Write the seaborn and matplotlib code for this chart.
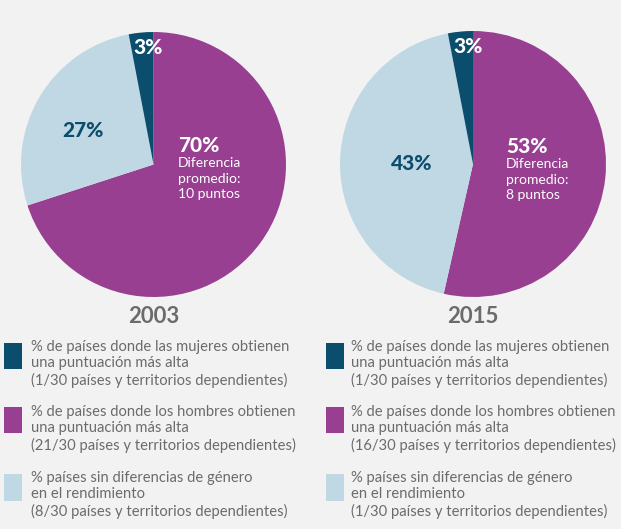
import matplotlib
matplotlib.use("Agg")
import matplotlib.pyplot as plt
import seaborn as sns
from matplotlib.patches import Rectangle

# Share of countries by gender gap outcome (order: men higher, no difference, women higher)
years = ["2003", "2015"]
men_higher = [70, 53]
no_difference = [27, 43]
women_higher = [3, 3]
avg_gap_text = ["Diferencia\npromedio:\n10 puntos", "Diferencia\npromedio:\n8 puntos"]

legend_texts = [
    ["% de países donde las mujeres obtienen\nuna puntuación más alta\n(1/30 países y territorios dependientes)",
     "% de países donde los hombres obtienen\nuna puntuación más alta\n(21/30 países y territorios dependientes)",
     "% países sin diferencias de género\nen el rendimiento\n(8/30 países y territorios dependientes)"],
    ["% de países donde las mujeres obtienen\nuna puntuación más alta\n(1/30 países y territorios dependientes)",
     "% de países donde los hombres obtienen\nuna puntuación más alta\n(16/30 países y territorios dependientes)",
     "% países sin diferencias de género\nen el rendimiento\n(1/30 países y territorios dependientes)"],
]

sns.set_theme(style="white")
plt.rcParams["font.family"] = ["Lato", "DejaVu Sans"]

BG = "#f2f2f2"
NAVY, PURPLE, LIGHT = sns.color_palette(["#0b4d6c", "#983f91", "#bfd8e3"])
GRAY = "#6b6b6b"

W, H = 621, 529
fig = plt.figure(figsize=(W / 100, H / 100), dpi=100)
fig.patch.set_facecolor(BG)

centers = [(153.5, 164.5, 132.5), (473.0, 164.0, 133.0)]
# label positions in pie coordinates
pos_small = [(-0.04, 0.88), (-0.04, 0.885)]
pos_nodiff = [(-0.53, 0.26), (-0.46, 0.0)]
pos_men = [(0.186, 0.14), (0.248, 0.13)]

for i, (cx, cy, r) in enumerate(centers):
    ax = fig.add_axes([(cx - r) / W, 1 - (cy + r) / H, 2 * r / W, 2 * r / H])
    ax.set_facecolor(BG)
    vals = [men_higher[i], no_difference[i], women_higher[i]]
    ax.pie(vals, colors=[PURPLE, LIGHT, NAVY], startangle=90, counterclock=False,
           radius=1, wedgeprops=dict(linewidth=0))
    ax.set_xlim(-1, 1)
    ax.set_ylim(-1, 1)
    ax.set_aspect("equal")
    ax.axis("off")

    ax.text(*pos_small[i], f"{women_higher[i]}%", color="white", fontsize=15,
            fontweight="black", ha="center", va="center")
    ax.text(*pos_nodiff[i], f"{no_difference[i]}%", color=NAVY, fontsize=15,
            fontweight="black", ha="center", va="center")
    ax.text(*pos_men[i], f"{men_higher[i]}%", color="white", fontsize=15,
            fontweight="black", ha="left", va="center")
    ax.text(pos_men[i][0], pos_men[i][1] - 0.085, avg_gap_text[i], color="white",
            fontsize=10, ha="left", va="top", linespacing=1.36)

    # year label
    fig.text(cx / W, 1 - 316.5 / H, years[i], color=GRAY, fontsize=16,
             fontweight="bold", ha="center", va="center")

# legends
patch_x = [4, 326]
text_x = [31, 351]
rows = [(343, 369, 347), (407, 433, 412), (474, 501, 478)]
colors = [NAVY, PURPLE, LIGHT]
for i in range(2):
    for j, (y0, y1, ty) in enumerate(rows):
        fig.patches.append(Rectangle((patch_x[i] / W, 1 - y1 / H), 18 / W, (y1 - y0) / H,
                                     transform=fig.transFigure, facecolor=colors[j],
                                     edgecolor="none"))
        fig.text(text_x[i] / W, 1 - (ty - 7) / H, legend_texts[i][j], color=GRAY,
                 fontsize=10.6, ha="left", va="top", linespacing=1.22)

fig.savefig("out.png", dpi=100, facecolor=BG)
